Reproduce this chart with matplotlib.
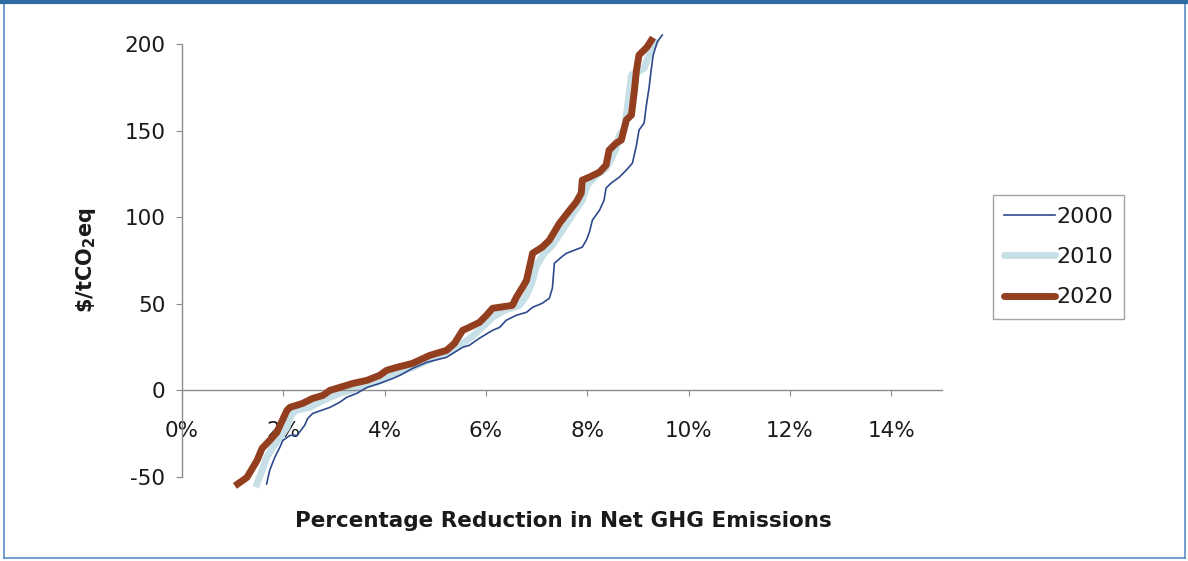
import matplotlib
matplotlib.use("Agg")
import matplotlib.pyplot as plt
from matplotlib.lines import Line2D

plt.rcParams['font.family'] = ['DejaVu Sans']
plt.rcParams['axes.unicode_minus'] = False
plt.rcParams['mathtext.fontset'] = 'custom'
plt.rcParams['mathtext.rm'] = 'DejaVu Sans:bold'
plt.rcParams['mathtext.it'] = 'DejaVu Sans:bold'
plt.rcParams['mathtext.bf'] = 'DejaVu Sans:bold'

# ---- data (percent reduction, $/tCO2eq) ----
x2000 = [1.67, 1.73, 1.83, 1.93, 1.99, 2.13, 2.27, 2.42, 2.48, 2.58, 2.92, 3.11, 3.25, 3.45,
         3.65, 3.90, 4.16, 4.30, 4.55, 4.83, 5.22, 5.54, 5.67, 5.87, 6.13, 6.27, 6.40, 6.60,
         6.80, 6.92, 7.11, 7.25, 7.31, 7.35, 7.51, 7.59, 7.90, 7.98, 8.04, 8.10, 8.24, 8.33,
         8.37, 8.47, 8.63, 8.77, 8.89, 8.97, 9.02, 9.12, 9.16, 9.22, 9.26, 9.30, 9.38, 9.48]
y2000 = [-54, -46.2, -38.7, -32.9, -28.9, -26.0, -26.0, -20.2, -16.2, -13.3, -9.8, -6.9, -4.0, -1.7,
         1.7, 4.0, 6.9, 8.7, 12.7, 16.2, 19.1, 24.9, 26.0, 30.1, 34.7, 36.4, 40.5, 43.4,
         45.1, 48.0, 50.3, 53.2, 59.0, 73.4, 77.5, 79.2, 82.7, 86.7, 91.3, 98.3, 104.0, 109.8,
         116.8, 119.7, 123.1, 127.2, 131.2, 141.6, 150.3, 154.3, 163.6, 175.1, 185.0, 193.6, 201.2, 205.2]

x2010 = [1.48, 1.58, 1.67, 1.79, 1.93, 2.07, 2.13, 2.23, 2.52, 2.78, 3.11, 3.51, 3.90, 4.16,
         4.55, 5.22, 5.48, 5.71, 5.93, 6.13, 6.36, 6.66, 6.80, 6.90, 7.00, 7.15, 7.31, 7.51,
         7.70, 7.90, 8.00, 8.18, 8.37, 8.49, 8.57, 8.63, 8.73, 8.79, 8.87, 9.12, 9.22, 9.34]
y2010 = [-54, -46.2, -38.7, -32.9, -27.2, -21.4, -15.6, -11.6, -9.8, -5.8, -1.7, 1.7, 5.8, 9.8,
         13.3, 22.0, 26.0, 30.6, 36.4, 42.2, 46.2, 49.1, 54.9, 61.8, 72.3, 79.2, 83.8, 92.5,
         101.2, 109.8, 118.5, 124.3, 128.3, 134.7, 139.9, 147.4, 151.0, 163.0, 182.0, 186.0, 194.0, 201.0]

x2020 = [1.10, 1.28, 1.48, 1.58, 1.73, 1.87, 2.07, 2.13, 2.38, 2.58, 2.78, 2.92, 3.11, 3.37,
         3.65, 3.90, 4.04, 4.24, 4.55, 4.89, 5.22, 5.38, 5.44, 5.54, 5.67, 5.87, 6.01, 6.13,
         6.52, 6.60, 6.72, 6.80, 6.92, 7.11, 7.25, 7.45, 7.65, 7.78, 7.88, 7.90, 8.04, 8.24,
         8.37, 8.43, 8.57, 8.67, 8.77, 8.87, 8.93, 8.97, 9.02, 9.18, 9.26]
y2020 = [-54, -50.3, -40.5, -33.5, -28.9, -24.3, -11.6, -9.8, -7.5, -4.6, -2.9, 0.0, 1.7, 4.0,
         5.8, 8.7, 11.6, 13.3, 15.6, 20.2, 23.1, 27.2, 30.1, 34.7, 36.4, 39.3, 43.4, 47.4,
         49.1, 53.8, 59.5, 63.6, 79.2, 82.7, 86.7, 96.5, 104.0, 108.7, 113.9, 121.4, 123.1, 126.0,
         130.1, 138.7, 142.8, 144.5, 156.1, 159.0, 173.4, 185.0, 193.6, 198.3, 202.0]

series_labels = ["2000", "2010", "2020"]
xticks = [0, 2, 4, 6, 8, 10, 12, 14]
yticks = [-50, 0, 50, 100, 150, 200]

W, H = 1188, 561
fig = plt.figure(figsize=(W / 100, H / 100), dpi=100)
fig.patch.set_facecolor('white')

ax = fig.add_axes([182 / W, 1 - 477 / H, 760 / W, 433 / H])
ax.set_facecolor('none')

c2000 = '#2c4a8c'
c2010 = '#c7dfe7'
c2020 = '#933f1f'

ax.plot(x2000, y2000, color=c2000, lw=1.2, clip_on=False, zorder=3)
ax.plot(x2010, y2010, color=c2010, lw=5.0, clip_on=False, zorder=2)
ax.plot(x2020, y2020, color=c2020, lw=5.0, clip_on=False, zorder=4)

ax.set_xlim(0, 15)
ax.set_ylim(-50, 200)
ax.set_xticks(xticks)
ax.set_xticklabels([f"{v}%" for v in xticks])
ax.set_yticks(yticks)

for s in ['top', 'right']:
    ax.spines[s].set_visible(False)
ax.spines['bottom'].set_position(('data', 0))
ax.spines['bottom'].set_color('#8c8c8c')
ax.spines['left'].set_color('#8c8c8c')
ax.spines['bottom'].set_linewidth(1.0)
ax.spines['left'].set_linewidth(1.0)
ax.tick_params(axis='x', direction='out', length=4, color='#8c8c8c', pad=18,
               labelsize=15.5, labelcolor='#1a1a1a')
ax.tick_params(axis='y', direction='out', length=4, color='#8c8c8c', pad=8,
               labelsize=15.5, labelcolor='#1a1a1a')

fig.text(563 / W, 1 - 521 / H, "Percentage Reduction in Net GHG Emissions",
         ha='center', va='center', fontsize=15.5, fontweight='bold', color='#1a1a1a')
fig.text(86 / W, 1 - 260 / H, r"\$/tCO$_{2}$eq", rotation=90,
         ha='center', va='center', fontsize=15, fontweight='bold', color='#1a1a1a')

handles = [Line2D([], [], color=c2000, lw=1.2),
           Line2D([], [], color=c2010, lw=5.0, solid_capstyle='round'),
           Line2D([], [], color=c2020, lw=5.0, solid_capstyle='round')]
leg = ax.legend(handles, series_labels, loc='center left',
                bbox_to_anchor=(993 / W, 1 - 257 / H), bbox_transform=fig.transFigure,
                fontsize=16, frameon=True, fancybox=False, handlelength=2.3,
                handletextpad=0.05, labelspacing=0.92, borderpad=0.5, borderaxespad=0)
leg.get_frame().set_edgecolor('#8c8c8c')
leg.get_frame().set_linewidth(1.0)
for t in leg.get_texts():
    t.set_color('#1a1a1a')

# outer frame
frame_c = '#5a8cc4'
fig.add_artist(Line2D([4 / W, 4 / W], [1 - 558 / H, 1 - 3 / H], color=frame_c, lw=1.2,
                      transform=fig.transFigure))
fig.add_artist(Line2D([1185 / W, 1185 / W], [1 - 558 / H, 1 - 3 / H], color=frame_c, lw=1.2,
                      transform=fig.transFigure))
fig.add_artist(Line2D([4 / W, 1185 / W], [1 - 558 / H, 1 - 558 / H], color=frame_c, lw=1.2,
                      transform=fig.transFigure))
fig.add_artist(Line2D([0, 1], [1 - 2 / H, 1 - 2 / H], color='#2f6aa3', lw=3,
                      transform=fig.transFigure))

fig.savefig("out.png", dpi=100)
